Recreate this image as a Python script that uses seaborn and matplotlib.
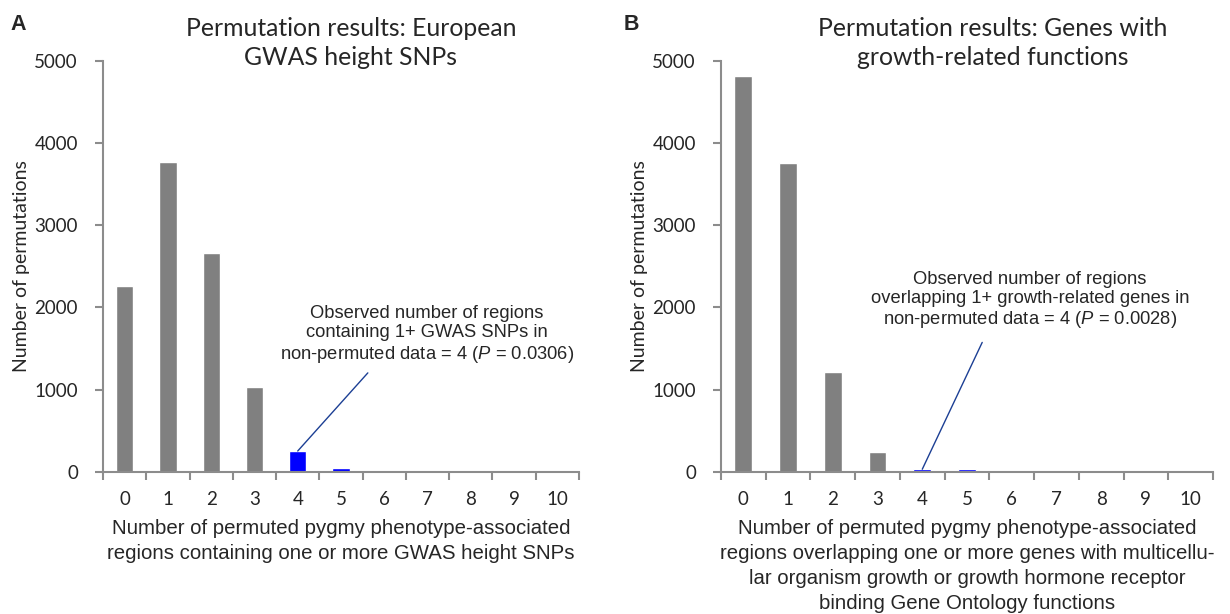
import matplotlib
matplotlib.use("Agg")
import matplotlib.pyplot as plt
import seaborn as sns
import pandas as pd

sns.set_theme(style="white")
plt.rcParams['font.family'] = ['Liberation Sans', 'DejaVu Sans']
plt.rcParams['mathtext.fontset'] = 'custom'
plt.rcParams['mathtext.rm'] = 'Liberation Sans'
plt.rcParams['mathtext.it'] = 'Liberation Sans:italic'

# ---- data ----
categories = ["0", "1", "2", "3", "4", "5", "6", "7", "8", "9", "10"]
gwas_counts = [2265, 3775, 2665, 1034, 252, 45, 12, 0, 0, 0, 0]
growth_counts = [4820, 3755, 1214, 235, 30, 30, 12, 0, 0, 0, 0]
highlight = ["4", "5"]

title_a = "Permutation results: European\nGWAS height SNPs"
title_b = "Permutation results: Genes with\ngrowth-related functions"
xlabel_a = "Number of permuted pygmy phenotype-associated\nregions containing one or more GWAS height SNPs"
xlabel_b = ("Number of permuted pygmy phenotype-associated\n"
            "regions overlapping one or more genes with multicellu-\n"
            "lar organism growth or growth hormone receptor\n"
            "binding Gene Ontology functions")
ylabel = "Number of permutations"
note_a = "Observed number of regions\ncontaining 1+ GWAS SNPs in\nnon-permuted data = 4 ($\\mathit{P}$ = 0.0306)"
note_b = "Observed number of regions\noverlapping 1+ growth-related genes in\nnon-permuted data = 4 ($\\mathit{P}$ = 0.0028)"

GRAY = "#808080"
BLUE = "#0000FF"
SPINE = "#8c8c8c"
palette = {c: (BLUE if c in highlight else GRAY) for c in categories}

fig = plt.figure(figsize=(12.3, 6.14), dpi=100)
W, H = 1230, 614
def axrect(left, right, top, bottom):
    return [left / W, 1 - bottom / H, (right - left) / W, (bottom - top) / H]

ax_a = fig.add_axes(axrect(103, 579, 61, 471.7))
ax_b = fig.add_axes(axrect(721, 1213, 61, 471.7))

def draw(ax, vals, xlabel, note, note_xy, line_top):
    df = pd.DataFrame({"cat": categories, "val": vals})
    sns.barplot(data=df, x="cat", y="val", hue="cat", palette=palette,
                legend=False, width=0.4, ax=ax, saturation=1)
    ax.set_xlim(-0.5, 10.5)
    ax.set_ylim(0, 5000)
    ax.set_yticks([0, 1000, 2000, 3000, 4000, 5000])
    ax.set_yticklabels(["0", "1000", "2000", "3000", "4000", "5000"],
                       fontfamily="Lato", fontsize=13.5)
    ax.set_xticks([i - 0.5 for i in range(12)], minor=False)
    ax.set_xticklabels([""] * 12)
    ax.set_xticks(range(11), minor=True)
    ax.set_xticklabels(categories, minor=True, fontfamily="Lato", fontsize=13.5)
    ax.tick_params(axis="x", which="minor", length=0, pad=14)
    ax.tick_params(axis="x", which="major", length=6, width=1.5, color=SPINE, direction="out", bottom=True)
    ax.tick_params(axis="y", length=6, width=1.5, color=SPINE, direction="out", left=True, pad=12)
    for s in ["top", "right"]:
        ax.spines[s].set_visible(False)
    for s in ["left", "bottom"]:
        ax.spines[s].set_color(SPINE)
        ax.spines[s].set_linewidth(1.5)
    ax.set_xlabel(xlabel, fontsize=14.7, labelpad=8, linespacing=1.4)
    ax.set_ylabel(ylabel, fontfamily="Lato", fontsize=14, labelpad=3)
    ax.annotate("", xy=(4, vals[4]), xytext=line_top,
                arrowprops=dict(arrowstyle="-", color="#1c3f94", lw=1.0,
                                shrinkA=0, shrinkB=0))
    ax.text(note_xy[0], note_xy[1], note, ha="center", va="center",
            fontsize=13.2, linespacing=1.15)

draw(ax_a, gwas_counts, xlabel_a, note_a, (6.98, 1664), (5.62, 1203))
draw(ax_b, growth_counts, xlabel_b, note_b, (6.41, 2084), (5.34, 1574))

fig.text(351 / W, 1 - 43 / H, title_a, ha="center", va="center",
         fontfamily="Lato", fontsize=17.8, linespacing=1.3)
fig.text(993 / W, 1 - 43 / H, title_b, ha="center", va="center",
         fontfamily="Lato", fontsize=17.8, linespacing=1.3)
fig.text(18 / W, 1 - 25 / H, "A", ha="center", va="center", fontsize=15.5, fontweight="bold")
fig.text(631 / W, 1 - 25 / H, "B", ha="center", va="center", fontsize=15.5, fontweight="bold")

fig.savefig("out.png", dpi=100)
